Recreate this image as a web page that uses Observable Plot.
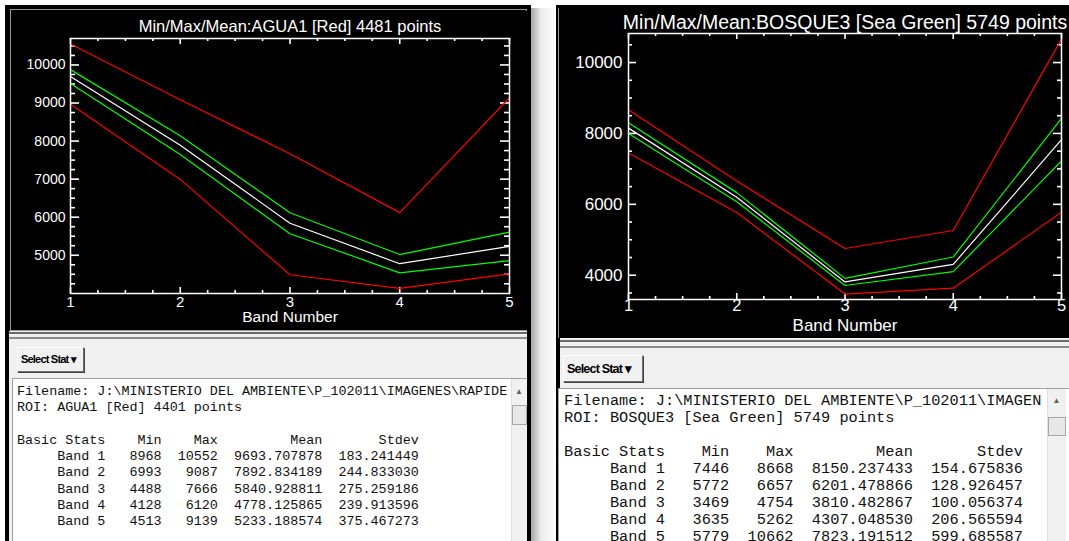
<!DOCTYPE html>
<html><head><meta charset="utf-8">
<script src="https://cdn.jsdelivr.net/npm/d3@7"></script>
<script src="https://cdn.jsdelivr.net/npm/@observablehq/plot@0.6"></script>
<style>
html,body{margin:0;padding:0}
body{width:1069px;height:541px;overflow:hidden;background:#fff;position:relative;font-family:"Liberation Sans",Arial,sans-serif}
.a{position:absolute;box-sizing:border-box}
.win{background:#000}
.panel{background:#f0f0f0}
.btn{background:#f0f0f0;border:1px solid #707070;border-top-color:#fff;border-left-color:#fff;box-shadow:1px 1px 0 #404040;font-weight:bold;color:#000;white-space:nowrap;letter-spacing:-0.8px;display:flex;align-items:center;padding-left:3px;font-family:"Liberation Sans Narrow","Liberation Sans",Arial,sans-serif}
.box{background:#fff;border:1px solid #a0a0a0;border-right:none;border-bottom:none;overflow:hidden}
pre{margin:0;font-family:"Liberation Mono","DejaVu Sans Mono",monospace;color:#111;white-space:pre}
.sb{background:#f0f0f0;border-left:1px solid #e0e0e0}
.thumb{background:#e8e8e8;border:1px solid #a8a8a8}
.arrow{color:#606060;text-align:center}
svg{display:block}
</style>
</head><body>
<script>
// ---------- data ----------
const bands = [1, 2, 3, 4, 5];
const xTickLabels = [1, 2, 3, 4, 5];

const aguaTitle = "Min/Max/Mean:AGUA1 [Red] 4481 points";
const aguaFilename = "J:\\MINISTERIO DEL AMBIENTE\\P_102011\\IMAGENES\\RAPIDE";
const aguaRoi = "AGUA1 [Red] 4401 points";
const aguaMin = [8968, 6993, 4488, 4128, 4513];
const aguaMax = [10552, 9087, 7666, 6120, 9139];
const aguaMean = [9693.707878, 7892.834189, 5840.928811, 4778.125865, 5233.188574];
const aguaStdev = [183.241449, 244.833030, 275.259186, 239.913596, 375.467273];
const aguaYTicks = [5000, 6000, 7000, 8000, 9000, 10000];

const bosqueTitle = "Min/Max/Mean:BOSQUE3 [Sea Green] 5749 points";
const bosqueFilename = "J:\\MINISTERIO DEL AMBIENTE\\P_102011\\IMAGEN";
const bosqueRoi = "BOSQUE3 [Sea Green] 5749 points";
const bosqueMin = [7446, 5772, 3469, 3635, 5779];
const bosqueMax = [8668, 6657, 4754, 5262, 10662];
const bosqueMean = [8150.237433, 6201.478866, 3810.482867, 4307.048530, 7823.191512];
const bosqueStdev = [154.675836, 128.926457, 100.056374, 206.565594, 599.685587];
const bosqueYTicks = [4000, 6000, 8000, 10000];

const xLabel = "Band Number";
const buttonLabel = "Select Stat \u25BE";
const statHeader = ["Basic Stats", "Min", "Max", "Mean", "Stdev"];

// ---------- layout ----------
const panels = [
  {
    title: aguaTitle, filename: aguaFilename, roi: aguaRoi,
    min: aguaMin, max: aguaMax, mean: aguaMean, sd: aguaStdev, yTicks: aguaYTicks,
    yDomain: [3995, 10695], yMajorStep: 1000, yMinorStep: 250,
    win: {x: 5, y: 5, w: 526, h: 536},
    plotBorder: {x: 10, y: 9, w: 517, h: 322},
    svg: {x: 12, y: 11, w: 515, h: 319, mt: 27, mr: 18, mb: 37, ml: 58},
    titleFont: 16.5, tickFont: 14, xTickFont: 15, labelFont: 15.5, titleDy: -12, labelDy: 24, xPad: 3, yGap: 5,
    yMajorLen: 9, yMinorLen: 5, xMajorLen: 6, xMinorLen: 3,
    panel: {x: 9, y: 331, w: 518, h: 210}, lines: [332, 337],
    btn: {x: 17, y: 347, w: 67, h: 25, fs: 11},
    box: {x: 12, y: 378, w: 515, h: 163},
    text: {x: 17, y: 384, fs: 13.4, lh: 16.25},
    sb: {x: 511, y: 379, w: 16, h: 162, ay: 386, ty: 405, th: 20}
  },
  {
    title: bosqueTitle, filename: bosqueFilename, roi: bosqueRoi,
    min: bosqueMin, max: bosqueMax, mean: bosqueMean, sd: bosqueStdev, yTicks: bosqueYTicks,
    yDomain: [3315, 10820], yMajorStep: 2000, yMinorStep: 500,
    win: {x: 556, y: 5, w: 513, h: 536},
    plotBorder: {x: 558, y: 8, w: 511, h: 330},
    svg: {x: 559, y: 6, w: 510, h: 332, mt: 27, mr: 8, mb: 39, ml: 69},
    titleFont: 19.5, tickFont: 17, xTickFont: 16.5, labelFont: 17, titleDy: -11, labelDy: 26, xPad: 0, yGap: 6,
    yMajorLen: 8, yMinorLen: 4, xMajorLen: 6, xMinorLen: 3,
    panel: {x: 560, y: 338, w: 509, h: 203}, lines: [340, 346],
    btn: {x: 563, y: 355, w: 80, h: 27, fs: 12.5},
    box: {x: 558, y: 388, w: 511, h: 153},
    text: {x: 564, y: 392.5, fs: 15.3, lh: 17},
    sb: {x: 1047, y: 389, w: 19, h: 152, ay: 395, ty: 417, th: 19}
  }
];

function div(cls, r, style = "") {
  const d = document.createElement("div");
  d.className = "a " + cls;
  d.style.cssText = `left:${r.x}px;top:${r.y}px;width:${r.w}px;height:${r.h}px;` + style;
  document.body.appendChild(d);
  return d;
}

function makeChart(c) {
  const rows = bands.map((b, i) => ({band: b, min: c.min[i], max: c.max[i], mean: c.mean[i], sd: c.sd[i]}));
  const xMinor = d3.range(bands[0], bands[bands.length - 1], 0.25).filter(v => !Number.isInteger(v));
  const yMinor = d3.range(Math.ceil(c.yDomain[0] / c.yMinorStep) * c.yMinorStep, c.yDomain[1], c.yMinorStep)
    .filter(v => v % c.yMajorStep !== 0);
  const W = "white";
  const s = c.svg;
  const fh = s.h - s.mt - s.mb;   // frame height
  const fw = s.w - s.ml - s.mr;   // frame width
  const tk = {stroke: W, strokeWidth: 1.6};
  return Plot.plot({
    width: s.w, height: s.h,
    marginTop: s.mt, marginRight: s.mr, marginBottom: s.mb, marginLeft: s.ml,
    style: {background: "black", color: "white", fontFamily: "'Liberation Sans', Arial, sans-serif", overflow: "visible"},
    x: {domain: [1, 5]},
    y: {domain: c.yDomain},
    marks: [
      // inward ticks (IDL style) on all four sides
      Plot.tickX(xTickLabels, {x: d => d, insetTop: fh - c.xMajorLen, ...tk}),
      Plot.tickX(xTickLabels, {x: d => d, insetBottom: fh - c.xMajorLen, ...tk}),
      Plot.tickX(xMinor, {x: d => d, insetTop: fh - c.xMinorLen, ...tk}),
      Plot.tickX(xMinor, {x: d => d, insetBottom: fh - c.xMinorLen, ...tk}),
      Plot.tickY(c.yTicks, {y: d => d, insetRight: fw - c.yMajorLen, ...tk}),
      Plot.tickY(c.yTicks, {y: d => d, insetLeft: fw - c.yMajorLen, ...tk}),
      Plot.tickY(yMinor, {y: d => d, insetRight: fw - c.yMinorLen, ...tk}),
      Plot.tickY(yMinor, {y: d => d, insetLeft: fw - c.yMinorLen, ...tk}),
      // tick labels
      Plot.axisX(xTickLabels, {anchor: "bottom", tickSize: 0, tickPadding: c.xPad, fill: W, fontSize: c.xTickFont, label: null, tickFormat: d => String(d)}),
      Plot.axisY(c.yTicks, {anchor: "left", tickSize: 0, tickPadding: c.yGap, fill: W, fontSize: c.tickFont, label: null, tickFormat: d => String(d)}),
      // data
      Plot.line(rows, {x: "band", y: "min", stroke: "#ff0000", strokeWidth: 1.2}),
      Plot.line(rows, {x: "band", y: "max", stroke: "#ff0000", strokeWidth: 1.2}),
      Plot.line(rows, {x: "band", y: d => d.mean + d.sd, stroke: "#00ff00", strokeWidth: 1.2}),
      Plot.line(rows, {x: "band", y: d => d.mean - d.sd, stroke: "#00ff00", strokeWidth: 1.2}),
      Plot.line(rows, {x: "band", y: "mean", stroke: "#ffffff", strokeWidth: 1.2}),
      Plot.frame({stroke: W, strokeWidth: 1.5}),
      Plot.text([c.title], {text: d => d, frameAnchor: "top", lineAnchor: "middle", dy: c.titleDy, fill: W, fontSize: c.titleFont}),
      Plot.text([xLabel], {text: d => d, frameAnchor: "bottom", lineAnchor: "middle", dy: c.labelDy, fill: W, fontSize: c.labelFont})
    ]
  });
}

function statsText(c) {
  const L = [`Filename: ${c.filename}`, `ROI: ${c.roi}`, "",
    statHeader[0].padEnd(11) + statHeader[1].padStart(7) + statHeader[2].padStart(7) + statHeader[3].padStart(13) + statHeader[4].padStart(12)];
  bands.forEach((b, i) => {
    L.push(("Band " + b).padStart(11) + String(c.min[i]).padStart(7) + String(c.max[i]).padStart(7) +
      c.mean[i].toFixed(6).padStart(13) + c.sd[i].toFixed(6).padStart(12));
  });
  return L.join("\n");
}

// shadow between windows
div("", {x: 531, y: 8, w: 25, h: 533}, "background:linear-gradient(to right, rgba(0,0,0,0.35), rgba(0,0,0,0.08) 40%, rgba(0,0,0,0))");

for (const c of panels) {
  div("win", c.win);
  div("", c.plotBorder, "border:1px solid #9a9a9a;");
  const holder = div("", {x: c.svg.x, y: c.svg.y, w: c.svg.w, h: c.svg.h});
  holder.appendChild(makeChart(c));
  div("panel", c.panel);
  div("", {x: c.panel.x, y: c.lines[0], w: c.panel.w, h: 2}, "background:#6a6a6a");
  div("", {x: c.panel.x, y: c.lines[1], w: c.panel.w, h: 2}, "background:#8c8c8c");
  const b = div("btn", c.btn, `font-size:${c.btn.fs}px;`);
  b.textContent = buttonLabel;
  div("box", c.box);
  const t = div("", {x: c.text.x, y: c.text.y, w: c.sb.x - c.text.x, h: 541 - c.text.y}, "overflow:hidden;");
  const pre = document.createElement("pre");
  pre.style.cssText = `font-size:${c.text.fs}px;line-height:${c.text.lh}px;`;
  pre.textContent = statsText(c);
  t.appendChild(pre);
  div("sb", c.sb);
  const ar = div("arrow", {x: c.sb.x, y: c.sb.ay, w: c.sb.w, h: 12}, "font-size:8px;line-height:12px;");
  ar.textContent = "\u25B2";
  div("thumb", {x: c.sb.x + 1, y: c.sb.ty, w: c.sb.w - 1, h: c.sb.th});
}
</script>
</body></html>
